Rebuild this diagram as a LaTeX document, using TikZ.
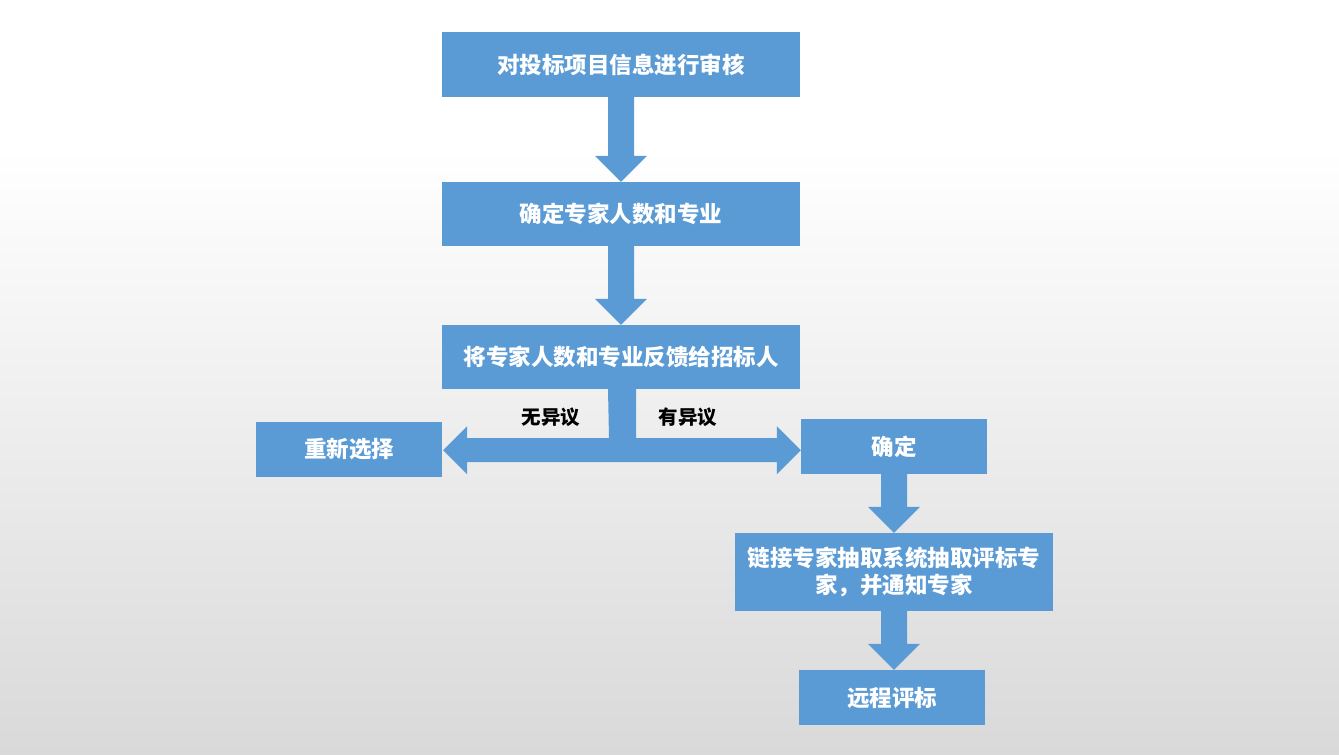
\documentclass[tikz,border=0pt]{standalone}
\usepackage{fontspec}
\newfontfamily\cjk{Noto Sans CJK SC}
\usetikzlibrary{calc}
\definecolor{boxblue}{HTML}{5B9BD5}
\definecolor{bggray}{HTML}{D9D9D9}
\tikzset{
  flowbox/.style={fill=boxblue, draw=none, text=white, inner sep=0pt, align=center,
    font=\cjk\bfseries\fontsize{22.5}{27}\selectfont},
  wide/.style={minimum width=358pt, minimum height=64pt},
  small/.style={minimum width=186pt, minimum height=55pt},
  lbl/.style={text=black, font=\cjk\bfseries\fontsize{19.5}{22}\selectfont, inner sep=0pt},
  blockarrow/.style={fill=boxblue, draw=none}
}
\newcommand\blockdn[2]{%
  \coordinate (tip) at (#1.south |- #2.north);
  \fill[blockarrow] ($(#1.south)+(-13,0)$) -- ($(tip)+(-13,-26)$) -- ($(tip)+(-26,-26)$)
    -- (tip) -- ($(tip)+(26,-26)$) -- ($(tip)+(13,-26)$) -- ($(#1.south)+(13,0)$) -- cycle;}
\begin{document}
\begin{tikzpicture}[x=1pt,y=-1pt]
\useasboundingbox (0,0) rectangle (1339,755);
\fill[white] (0,0) rectangle (1339,151);
\shade[top color=white, bottom color=bggray] (0,150) rectangle (1339,755);

\node[flowbox, wide, minimum height=65pt] (b1) at (621,64.5) {对投标项目信息进行审核};
\node[flowbox, wide] (b2) at (621,214) {确定专家人数和专业};
\node[flowbox, wide] (b3) at (621,357) {将专家人数和专业反馈给招标人};
\node[flowbox, small] (lb) at (349,449.5) {重新选择};
\node[flowbox, small] (rb) at (894,446.5) {确定};
\node[flowbox, minimum width=318pt, minimum height=78pt] (b5) at (894,572) {链接专家抽取系统抽取评标专\\家，并通知专家};
\node[flowbox, small] (b6) at (892,697.5) {远程评标};

\node[lbl] (l1) at (551,417) {无异议};
\node[lbl] (l2) at (688,417) {有异议};

\blockdn{b1}{b2}
\blockdn{b2}{b3}
\blockdn{rb}{b5}
\blockdn{b5}{b6}

\coordinate (tc) at ($(b3.south)+(1,61)$);
\coordinate (lt) at ($(lb.east |- tc)+(1,0)$);
\coordinate (rt) at (rb.west |- tc);
\fill[blockarrow] ($(b3.south)+(-13,0)$) -- ($(tc)+(-13,-12)$) -- ($(lt)+(24,-12)$) -- ($(lt)+(24,-24)$)
  -- (lt) -- ($(lt)+(24,24)$) -- ($(lt)+(24,12)$) -- ($(rt)+(-24,12)$) -- ($(rt)+(-24,24)$)
  -- (rt) -- ($(rt)+(-24,-24)$) -- ($(rt)+(-24,-12)$) -- ($(tc)+(14,-12)$) -- ($(b3.south)+(15,0)$) -- cycle;
\end{tikzpicture}
\end{document}
